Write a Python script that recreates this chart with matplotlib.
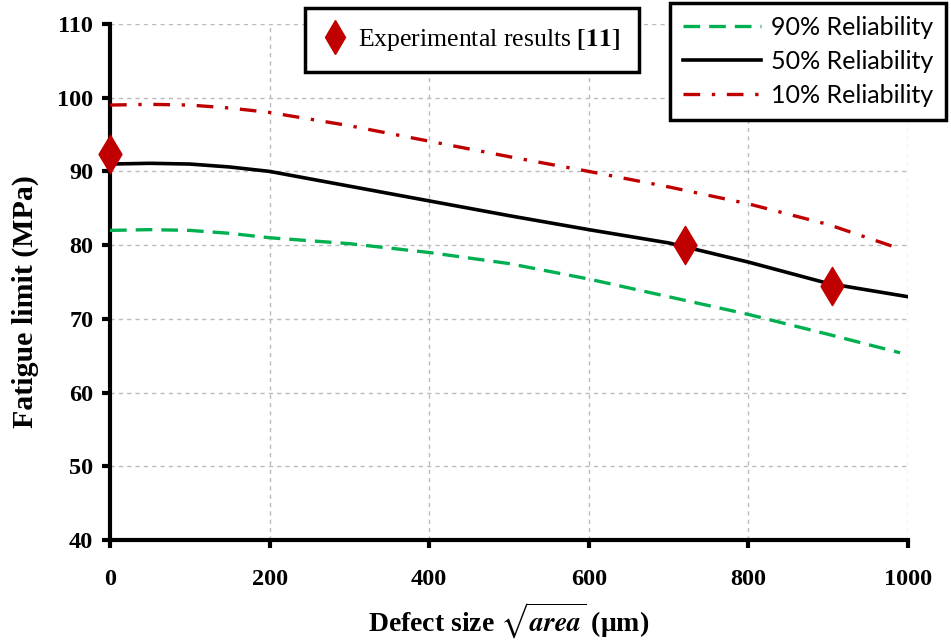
import matplotlib
matplotlib.use("Agg")
import matplotlib.pyplot as plt
from matplotlib.lines import Line2D

plt.rcParams['mathtext.fontset'] = 'stix'

# Defect size (um) vs fatigue limit (MPa)
x_50 = [0, 50, 100, 150, 200, 300, 400, 500, 600, 700, 800, 900, 1000]
y_50 = [91.0, 91.1, 91.0, 90.6, 90.0, 88.0, 86.0, 84.0, 82.1, 80.3, 77.7, 74.8, 73.0]

x_90 = [0, 50, 100, 150, 200, 300, 400, 500, 600, 700, 800, 900, 990]
y_90 = [82.0, 82.1, 82.0, 81.6, 81.0, 80.2, 79.0, 77.5, 75.4, 73.0, 70.6, 67.9, 65.4]

x_10 = [0, 50, 100, 150, 200, 300, 400, 500, 600, 700, 800, 900, 990]
y_10 = [99.0, 99.1, 99.0, 98.6, 98.0, 96.2, 94.1, 92.0, 90.0, 87.9, 85.6, 82.8, 79.5]

x_exp = [0, 720, 905]
y_exp = [92.3, 80.0, 74.5]

xticks = [0, 200, 400, 600, 800, 1000]
yticks = [40, 50, 60, 70, 80, 90, 100, 110]

green = '#00B050'
red = '#C00000'

fig = plt.figure(figsize=(9.51, 6.43), dpi=100)
ax = fig.add_axes([0.1157, 0.1602, 0.8391, 0.8025])

l90, = ax.plot(x_90, y_90, color=green, lw=2.4, linestyle=(0, (5, 2.7)), zorder=3)
l50, = ax.plot(x_50, y_50, color='black', lw=2.6, zorder=3)
l10, = ax.plot(x_10, y_10, color=red, lw=2.4, linestyle=(0, (5, 3.5, 1, 3.5)), zorder=3)
pts = ax.scatter(x_exp, y_exp, marker='d', s=380, color=red, zorder=5, clip_on=False)

ax.set_xlim(0, 1000)
ax.set_ylim(40, 110)
ax.set_xticks(xticks)
ax.set_yticks(yticks)
ax.grid(True, color='#BBBBBB', linestyle=(0, (3, 3)), linewidth=1)
ax.set_axisbelow(True)

for s in ['top', 'right']:
    ax.spines[s].set_visible(False)
for s in ['left', 'bottom']:
    ax.spines[s].set_linewidth(3)
ax.tick_params(direction='out', length=6, width=3)
ax.tick_params(axis='x', pad=15)
ax.tick_params(axis='y', pad=6)
for lab in ax.get_xticklabels() + ax.get_yticklabels():
    lab.set_fontfamily('Liberation Serif')
    lab.set_fontweight('bold')
    lab.set_fontsize(17.5)

ax.set_ylabel('Fatigue limit (MPa)', family='Liberation Serif', weight='bold', fontsize=21.5)
ax.yaxis.set_label_coords(-0.089, 0.463)
ax.set_xlabel(r'Defect size $\sqrt{\mathbfit{area}}$ (μm)', family='Liberation Serif',
              weight='bold', fontsize=20, labelpad=8)

# legend 1: experimental points
h_exp = Line2D([], [], marker='d', color=red, linestyle='none', markersize=17)
leg1 = fig.legend([h_exp], [r'Experimental results $\mathbf{[11]}$'],
                  loc='upper left', bbox_to_anchor=(0.321, 0.988),
                  prop={'family': 'Liberation Serif', 'size': 18.5},
                  frameon=True, fancybox=False, edgecolor='black', framealpha=1,
                  handlelength=0.8, handletextpad=0.5, borderpad=0.75, borderaxespad=0)
leg1.get_frame().set_linewidth(2.5)

# legend 2: reliability curves
leg2 = fig.legend([l90, l50, l10], ['90% Reliability', '50% Reliability', '10% Reliability'],
                  loc='upper left', bbox_to_anchor=(0.705, 0.995),
                  prop={'family': 'Lato', 'size': 18},
                  frameon=True, fancybox=False, edgecolor='black', framealpha=1,
                  handlelength=3.1, handletextpad=0.4, labelspacing=0.43,
                  borderpad=0.52, borderaxespad=0)
leg2.get_frame().set_linewidth(2.5)

fig.savefig('out.png', dpi=100)
